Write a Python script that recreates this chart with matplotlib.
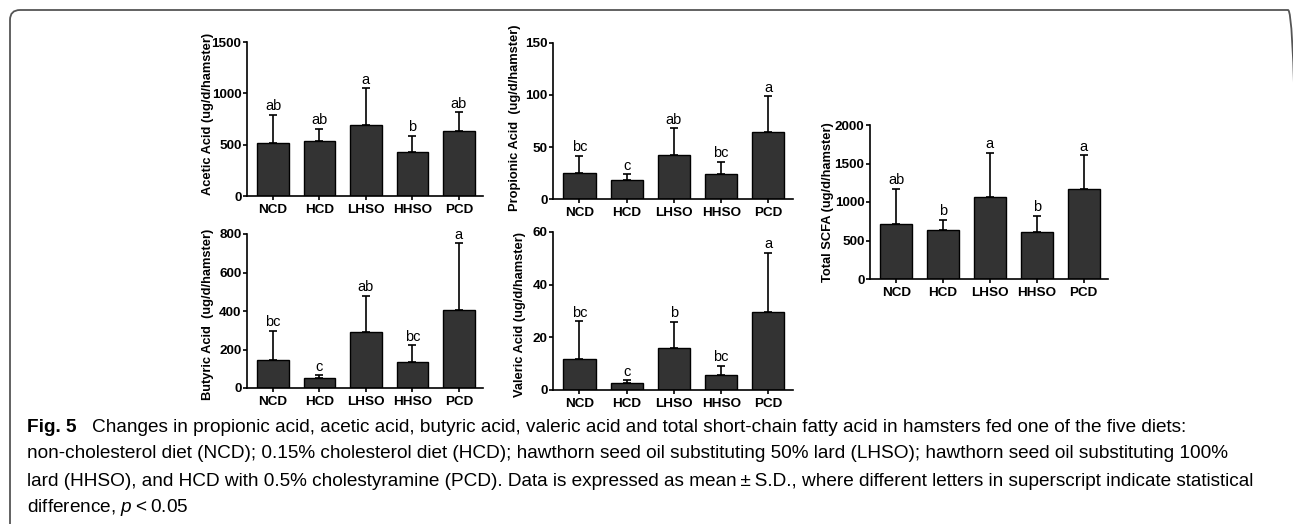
import numpy as np
import matplotlib; matplotlib.use("Agg")
import matplotlib.pyplot as plt
from matplotlib import font_manager as fm
from matplotlib.patches import FancyBboxPatch
from matplotlib.transforms import IdentityTransform

W, H = 1293, 524

groups = ["NCD", "HCD", "LHSO", "HHSO", "PCD"]

acetic_mean = [514, 534, 693, 430, 631]
acetic_sd = [277, 120, 358, 159, 186]
acetic_sig = ["ab", "ab", "a", "b", "ab"]

propionic_mean = [24.8, 18.0, 42.0, 23.8, 64.4]
propionic_sd = [17.0, 6.0, 26.0, 12.2, 34.4]
propionic_sig = ["bc", "c", "ab", "bc", "a"]

total_mean = [720, 634, 1060, 616, 1164]
total_sd = [452, 138, 582, 207, 444]
total_sig = ["ab", "b", "a", "b", "a"]

butyric_mean = [145, 52, 290, 136, 405]
butyric_sd = [153, 13, 189, 86, 348]
butyric_sig = ["bc", "c", "ab", "bc", "a"]

valeric_mean = [11.6, 2.7, 15.9, 5.7, 29.8]
valeric_sd = [14.6, 1.1, 10.0, 3.6, 22.4]
valeric_sig = ["bc", "c", "b", "bc", "a"]

caption = [
    "Changes in propionic acid, acetic acid, butyric acid, valeric acid and total short-chain fatty acid in hamsters fed one of the five diets:",
    "non-cholesterol diet (NCD); 0.15% cholesterol diet (HCD); hawthorn seed oil substituting 50% lard (LHSO); hawthorn seed oil substituting 100%",
    "lard (HHSO), and HCD with 0.5% cholestyramine (PCD). Data is expressed as mean\u2009\u00b1\u2009S.D., where different letters in superscript indicate statistical",
    "difference, $p$\u2009<\u20090.05",
]

names = {f.name for f in fm.fontManager.ttflist}
CAP_FONT = "Liberation Sans Narrow" if "Liberation Sans Narrow" in names else "Liberation Sans"
plt.rcParams["font.family"] = ["Liberation Sans", "DejaVu Sans"]
plt.rcParams["mathtext.fontset"] = "custom"
plt.rcParams["mathtext.it"] = CAP_FONT + ":italic"
plt.rcParams["mathtext.rm"] = CAP_FONT

fig = plt.figure(figsize=(W / 100, H / 100), dpi=100)


def panel(box, means, sds, sigs, ymax, yticks, ylabel, lab_x, lab_y=0.5):
    # box = (left, top, right, bottom) in pixels from top-left
    l, t, r, b = box
    ax = fig.add_axes([l / W, 1 - b / H, (r - l) / W, (b - t) / H])
    x = np.arange(len(groups))
    ax.bar(x, means, width=0.68, color="#333333", edgecolor="black", linewidth=1.0, zorder=2)
    ax.errorbar(x, means, yerr=[np.zeros(len(sds)), sds], fmt="none", ecolor="black",
                elinewidth=1.2, capsize=3.2, capthick=1.2, zorder=3)
    for xi, m, s, g in zip(x, means, sds, sigs):
        ax.annotate(g, (xi, m + s), xytext=(0, 1.0), textcoords="offset points",
                    ha="center", va="bottom", fontsize=10.5)
    ax.set_xlim(-0.56, 4.52)
    ax.set_ylim(0, ymax)
    ax.set_yticks(yticks)
    ax.set_xticks(x)
    ax.set_xticklabels(groups)
    for sp in ["top", "right"]:
        ax.spines[sp].set_visible(False)
    for sp in ["left", "bottom"]:
        ax.spines[sp].set_linewidth(1.2)
    ax.tick_params(axis="both", width=1.2, length=3, labelsize=9.7)
    ax.tick_params(axis="y", pad=1)
    ax.tick_params(axis="x", pad=3)
    for lb in ax.get_xticklabels() + ax.get_yticklabels():
        lb.set_fontweight("bold")
    ax.patch.set_alpha(0)
    ax.text((lab_x - l) / (r - l), lab_y, ylabel, rotation=90, ha="center", va="center",
            fontsize=9.3, fontweight="bold", transform=ax.transAxes)
    return ax


panel((247, 42, 483, 196), acetic_mean, acetic_sd, acetic_sig, 1500, [0, 500, 1000, 1500],
      "Acetic Acid (ug/d/hamster)", 208, 0.53)
panel((553, 43, 793, 199), propionic_mean, propionic_sd, propionic_sig, 150, [0, 50, 100, 150],
      "Propionic Acid  (ug/d/hamster)", 515, 0.52)
panel((870, 125, 1108, 279), total_mean, total_sd, total_sig, 2000, [0, 500, 1000, 1500, 2000],
      "Total SCFA (ug/d/hamster)", 828, 0.5)
panel((247, 234, 483, 388), butyric_mean, butyric_sd, butyric_sig, 800, [0, 200, 400, 600, 800],
      "Butyric Acid  (ug/d/hamster)", 208, 0.48)
panel((553, 232, 793, 390), valeric_mean, valeric_sd, valeric_sig, 60, [0, 20, 40, 60],
      "Valeric Acid (ug/d/hamster)", 520, 0.48)

# frame round the figure (bottom open, right side just off the edge)
frame = FancyBboxPatch((10, -30), 1288, H - 10 + 30, boxstyle="round,pad=0,rounding_size=10",
                       transform=IdentityTransform(), fill=False, edgecolor="#555555", linewidth=1.3)
fig.add_artist(frame)

# caption, fitted to the line width of the reference
renderer = fig.canvas.get_renderer()
probe = fig.text(0, 0, caption[1], fontsize=14, family=CAP_FONT)
w_probe = probe.get_window_extent(renderer).width
probe.remove()
cs = 14 * (1245 - 27) / w_probe
ys = [427, 454, 481, 507]
x0 = 27
fig_b = fig.text(x0 / W, 1 - ys[0] / H, "Fig. 5", fontsize=cs, family=CAP_FONT,
                 fontweight="bold", va="center")
wb = fig_b.get_window_extent(renderer).width
fig.text((x0 + wb + 15) / W, 1 - ys[0] / H, caption[0], fontsize=cs, family=CAP_FONT, va="center")
for line, y in zip(caption[1:], ys[1:]):
    fig.text(x0 / W, 1 - y / H, line, fontsize=cs, family=CAP_FONT, va="center")

fig.savefig("out.png", dpi=100)
